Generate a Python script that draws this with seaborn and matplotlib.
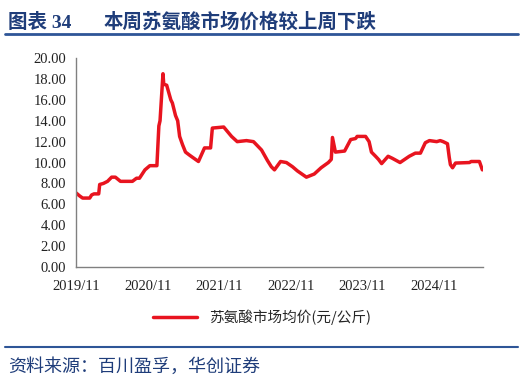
import matplotlib
matplotlib.use("Agg")
import matplotlib.pyplot as plt
import matplotlib.dates as mdates
import pandas as pd
import seaborn as sns

# weekly-ish price points (元/公斤)
dates = [
    "2019-11-01", "2019-11-20", "2019-12-05", "2020-01-10", "2020-01-20", "2020-02-01",
    "2020-02-25", "2020-03-01", "2020-03-20", "2020-04-10", "2020-05-01", "2020-05-20",
    "2020-06-15", "2020-08-15", "2020-09-05", "2020-09-20", "2020-10-18", "2020-11-12",
    "2020-12-18", "2020-12-28", "2021-01-03", "2021-01-18", "2021-01-22", "2021-02-06",
    "2021-02-27", "2021-03-07", "2021-03-23", "2021-04-03", "2021-04-13", "2021-04-28",
    "2021-05-13", "2021-06-03", "2021-06-18", "2021-07-18", "2021-08-18", "2021-09-18",
    "2021-09-27", "2021-11-24", "2022-01-03", "2022-02-01", "2022-03-20", "2022-04-25",
    "2022-06-05", "2022-07-05", "2022-07-25", "2022-08-10", "2022-09-10", "2022-10-10",
    "2022-11-10", "2022-12-05", "2023-01-20", "2023-03-01", "2023-04-05", "2023-05-12",
    "2023-05-27", "2023-06-02", "2023-06-17", "2023-08-03", "2023-09-03", "2023-09-28",
    "2023-10-06", "2023-11-18", "2023-12-06", "2023-12-18", "2024-01-08", "2024-01-23",
    "2024-02-08", "2024-03-12", "2024-04-03", "2024-05-12", "2024-06-28", "2024-07-29",
    "2024-08-24", "2024-09-18", "2024-10-09", "2024-11-15", "2024-12-03", "2024-12-18",
    "2025-01-09", "2025-01-18", "2025-01-24", "2025-02-04", "2025-02-19", "2025-05-01",
    "2025-05-10", "2025-06-21", "2025-07-06",
]
prices = [
    7.1, 6.8, 6.6, 6.6, 6.9, 7.0,
    7.0, 7.9, 8.0, 8.2, 8.6, 8.6,
    8.2, 8.2, 8.5, 8.5, 9.3, 9.7,
    9.7, 13.5, 14.0, 18.5, 17.5, 17.4,
    16.0, 15.7, 14.5, 14.0, 12.5, 11.7,
    11.0, 10.7, 10.5, 10.1, 11.4, 11.4,
    13.3, 13.4, 12.5, 12.0, 12.1, 12.0,
    11.2, 10.2, 9.6, 9.3, 10.1, 10.0,
    9.6, 9.2, 8.6, 8.9, 9.5, 10.0,
    10.3, 12.4, 11.0, 11.1, 12.2, 12.3,
    12.5, 12.5, 12.0, 11.0, 10.6, 10.3,
    9.9, 10.6, 10.4, 10.0, 10.6, 10.9,
    10.9, 11.9, 12.1, 12.0, 12.1, 12.0,
    11.8, 10.5, 9.8, 9.5, 9.95, 10.0,
    10.1, 10.1, 9.3,
]
tick_dates = ["2019-11-01", "2020-11-01", "2021-11-01", "2022-11-01", "2023-11-01", "2024-11-01"]
series_name = "苏氨酸市场均价(元/公斤)"

df = pd.DataFrame({"date": pd.to_datetime(dates), "price": prices})

sns.set_style("white")
plt.rcParams["font.family"] = ["Liberation Serif", "Noto Sans CJK SC", "DejaVu Sans"]

navy = "#1F3D7A"
fig = plt.figure(figsize=(5.24, 3.82), dpi=100)
ax = fig.add_axes([0.145, 0.301, 0.777, 0.547])

sns.lineplot(data=df, x="date", y="price", ax=ax, color="#E8141F", linewidth=2.5, label=series_name)

ax.set_ylim(0, 20)
ax.set_yticks(range(0, 21, 2))
ax.yaxis.set_major_formatter(matplotlib.ticker.FormatStrFormatter("%.2f"))
ax.set_xlim(pd.Timestamp("2019-11-01"), pd.Timestamp("2025-07-10"))
ax.set_xticks(pd.to_datetime(tick_dates))
ax.xaxis.set_major_formatter(mdates.DateFormatter("%Y/%m"))
ax.set_xlabel("")
ax.set_ylabel("")

for side in ["top", "right"]:
    ax.spines[side].set_visible(False)
for side in ["left", "bottom"]:
    ax.spines[side].set_color("#808080")
    ax.spines[side].set_linewidth(1.0)
ax.tick_params(axis="both", which="major", direction="out", length=4, width=1.0,
               color="#808080", labelsize=10.5, labelcolor="#222222", pad=3)
ax.tick_params(axis="x", pad=5)

ax.get_legend().remove()
handles, labels = ax.get_legend_handles_labels()
fig.legend(handles, labels, loc="center", bbox_to_anchor=(0.5, 0.17), frameon=False,
           handlelength=3.0, prop={"family": ["Noto Sans CJK SC"], "size": 10.5})

# header and footer
fig.text(0.015, 0.942, "图表 34", fontsize=14, fontweight="bold", color=navy,
         family=["Liberation Serif", "Noto Sans CJK SC"], va="center")
fig.text(0.197, 0.942, "本周苏氨酸市场价格较上周下跌", fontsize=14, fontweight="bold", color=navy,
         family=["Noto Sans CJK SC"], va="center")
fig.add_artist(plt.Line2D([0.01, 0.988], [0.912, 0.912], color="#2E5597", linewidth=2.0))
fig.add_artist(plt.Line2D([0.01, 0.988], [0.092, 0.092], color="#2E5597", linewidth=1.5))
fig.text(0.015, 0.04, "资料来源：百川盈孚，华创证券", fontsize=13, color=navy,
         family=["Noto Sans CJK SC"], va="center")

fig.savefig("out.png", dpi=100)
